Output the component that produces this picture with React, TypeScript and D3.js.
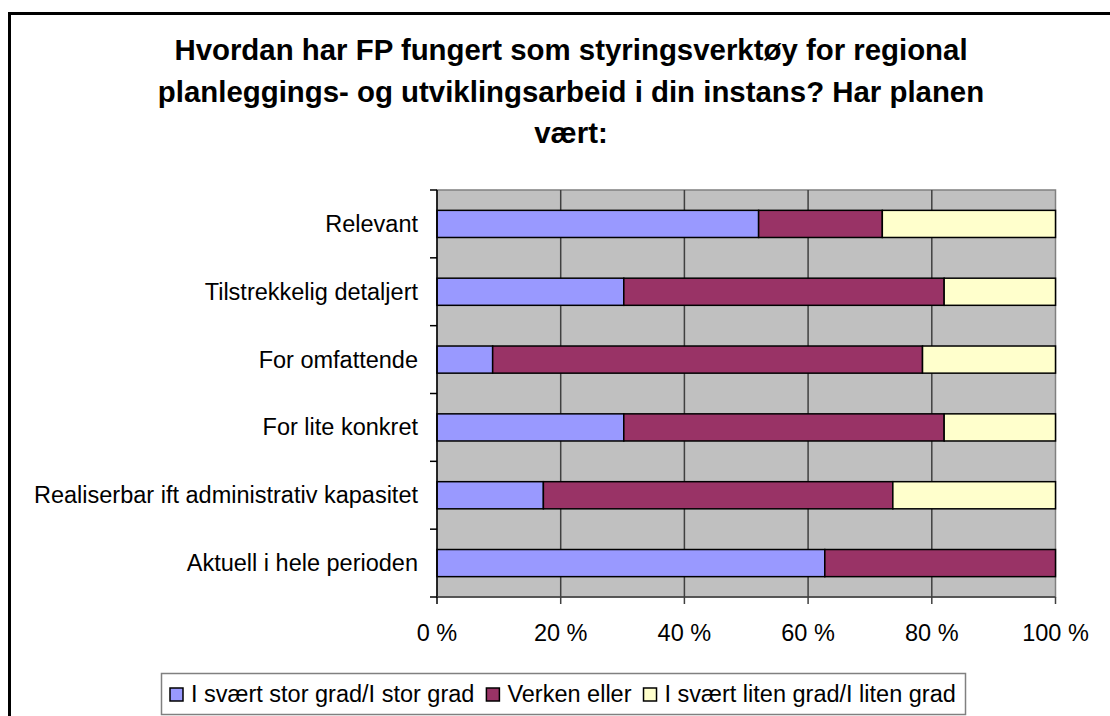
import React, { useEffect, useRef } from 'react';
import * as d3 from 'd3';

const titleLines = [
  'Hvordan har FP fungert som styringsverktøy for regional',
  'planleggings- og utviklingsarbeid i din instans? Har planen',
  'vært:',
];

const categories = [
  'Relevant',
  'Tilstrekkelig detaljert',
  'For omfattende',
  'For lite konkret',
  'Realiserbar ift administrativ kapasitet',
  'Aktuell i hele perioden',
];

const seriesNames = ['I svært stor grad/I stor grad', 'Verken eller', 'I svært liten grad/I liten grad'];
const seriesColors = ['#9999FF', '#993366', '#FFFFCC'];

const stor = [52, 30.2, 9, 30.2, 17.2, 62.7];
const verken = [20, 51.8, 69.5, 51.8, 56.5, 37.3];
const liten = [28, 18, 21.5, 18, 26.3, 0];

const tickValues = [0, 20, 40, 60, 80, 100];

const FONT = '"Liberation Sans", Arial, sans-serif';

export default function App() {
  const ref = useRef<SVGSVGElement>(null);

  useEffect(() => {
    const svg = d3.select(ref.current);
    svg.selectAll('*').remove();

    const width = 1110, height = 716;
    const plot = { left: 437, top: 190, right: 1055.5, bottom: 597 };

    svg.append('rect')
      .attr('x', 0).attr('y', 0).attr('width', width).attr('height', height)
      .attr('fill', 'white');

    // outer chart border (runs off the picture on right and bottom)
    svg.append('rect')
      .attr('x', 9.5).attr('y', 13.5).attr('width', 1300).attr('height', 900)
      .attr('fill', 'none').attr('stroke', 'black').attr('stroke-width', 3);

    // title
    svg.append('g')
      .selectAll('text')
      .data(titleLines)
      .enter()
      .append('text')
      .attr('x', 571)
      .attr('y', (d, i) => 60 + i * 41.5)
      .attr('text-anchor', 'middle')
      .style('font-family', FONT)
      .style('font-weight', 'bold')
      .style('font-size', '29.4px')
      .text(d => d);

    const x = d3.scaleLinear().domain([0, 100]).range([plot.left, plot.right]);
    const y = d3.scaleBand().domain(categories).range([plot.top, plot.bottom]).paddingInner(0.6).paddingOuter(0.3);
    const band = d3.scaleBand().domain(categories).range([plot.top, plot.bottom]);

    // plot background
    svg.append('rect')
      .attr('x', plot.left).attr('y', plot.top)
      .attr('width', plot.right - plot.left).attr('height', plot.bottom - plot.top)
      .attr('fill', '#C0C0C0')
      .attr('stroke', '#808080').attr('stroke-width', 1.5);

    // vertical gridlines
    svg.append('g')
      .selectAll('line')
      .data(tickValues.slice(1, -1))
      .enter()
      .append('line')
      .attr('x1', d => x(d)).attr('x2', d => x(d))
      .attr('y1', plot.top).attr('y2', plot.bottom)
      .attr('stroke', '#404040').attr('stroke-width', 1.5);

    // stacked bars
    const rows = categories.map((c, i) => ({ cat: c, stor: stor[i], verken: verken[i], liten: liten[i] }));
    const stack = d3.stack<any>().keys(['stor', 'verken', 'liten']);
    const stacked = stack(rows);

    svg.append('g')
      .selectAll('g')
      .data(stacked)
      .enter()
      .append('g')
      .attr('fill', (d, i) => seriesColors[i])
      .selectAll('rect')
      .data(d => d.filter(p => p[1] - p[0] > 0))
      .enter()
      .append('rect')
      .attr('x', d => x(d[0]))
      .attr('width', d => x(d[1]) - x(d[0]))
      .attr('y', d => y(d.data.cat) as number)
      .attr('height', y.bandwidth())
      .attr('stroke', 'black')
      .attr('stroke-width', 1.5);

    // left axis
    svg.append('line')
      .attr('x1', plot.left).attr('x2', plot.left)
      .attr('y1', plot.top).attr('y2', plot.bottom)
      .attr('stroke', 'black').attr('stroke-width', 1.5);
    const boundaries = categories.map(c => band(c) as number).concat([plot.bottom]);
    svg.append('g')
      .selectAll('line')
      .data(boundaries)
      .enter()
      .append('line')
      .attr('x1', plot.left - 7).attr('x2', plot.left)
      .attr('y1', d => d).attr('y2', d => d)
      .attr('stroke', 'black').attr('stroke-width', 1.5);

    svg.append('g')
      .selectAll('text')
      .data(categories)
      .enter()
      .append('text')
      .attr('x', 418)
      .attr('y', d => (band(d) as number) + band.bandwidth() / 2 + 8)
      .attr('text-anchor', 'end')
      .style('font-family', FONT)
      .style('font-size', '23.5px')
      .text(d => d);

    // bottom axis
    svg.append('line')
      .attr('x1', plot.left).attr('x2', plot.right)
      .attr('y1', plot.bottom).attr('y2', plot.bottom)
      .attr('stroke', '#404040').attr('stroke-width', 1.5);
    svg.append('g')
      .selectAll('line')
      .data(tickValues)
      .enter()
      .append('line')
      .attr('x1', d => x(d)).attr('x2', d => x(d))
      .attr('y1', plot.bottom).attr('y2', plot.bottom + 7)
      .attr('stroke', d => (d === 0 ? 'black' : '#404040')).attr('stroke-width', 1.5);
    svg.append('g')
      .selectAll('text')
      .data(tickValues)
      .enter()
      .append('text')
      .attr('x', d => x(d))
      .attr('y', 641)
      .attr('text-anchor', 'middle')
      .style('font-family', FONT)
      .style('font-size', '23.5px')
      .text(d => d + ' %');

    // legend
    const legend = svg.append('g');
    legend.append('rect')
      .attr('x', 161.5).attr('y', 673.5).attr('width', 804).attr('height', 41)
      .attr('fill', 'white').attr('stroke', '#808080').attr('stroke-width', 1.5);
    let lx = 170;
    seriesNames.forEach((name, i) => {
      legend.append('rect')
        .attr('x', lx).attr('y', 688).attr('width', 13).attr('height', 13)
        .attr('fill', seriesColors[i]).attr('stroke', 'black').attr('stroke-width', 1.5);
      const t = legend.append('text')
        .attr('x', lx + 21).attr('y', 702)
        .style('font-family', FONT)
        .style('font-size', '23.5px')
        .text(name);
      const w = (t.node() as SVGTextElement).getComputedTextLength();
      lx = lx + 21 + w + 12;
    });
  }, []);

  return (
    <svg ref={ref} width={1110} height={716} style={{ position: 'absolute', left: 0, top: 0 }} />
  );
}
